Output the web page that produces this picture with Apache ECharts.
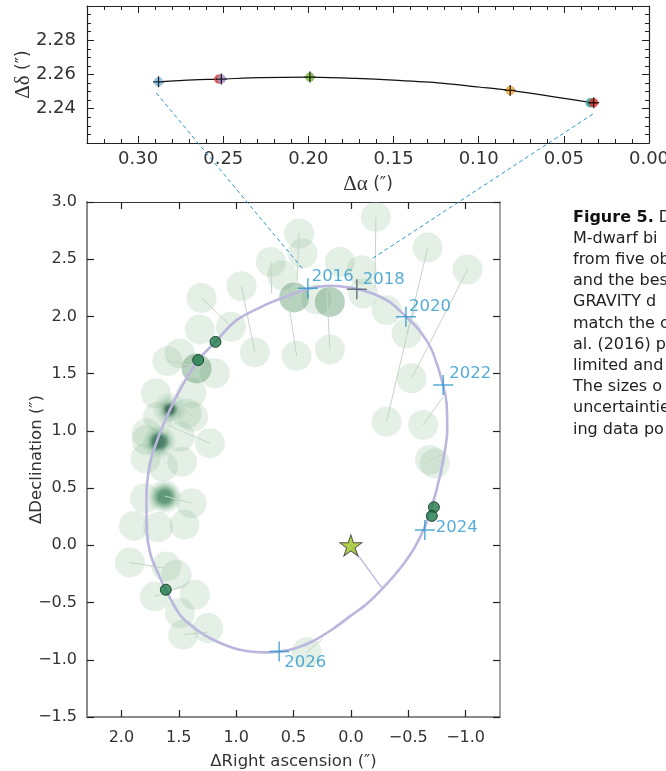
<!DOCTYPE html>
<html><head><meta charset="utf-8">
<script src="https://cdn.jsdelivr.net/npm/echarts@6/dist/echarts.min.js"></script>
<style>html,body{margin:0;padding:0;background:#fff}#c{width:666px;height:771px}</style>
</head><body><div id="c"></div>
<script>
// ---------- DATA ----------
// Top panel: GRAVITY orbit segment and five epochs
const topPathX = [0.288, 0.2675, 0.2526, 0.2284, 0.1991, 0.172, 0.15, 0.122, 0.10, 0.0815, 0.033];
const topPathY = [2.2557, 2.2569, 2.2573, 2.2582, 2.2585, 2.2577, 2.2567, 2.255, 2.2527, 2.2507, 2.2435];
const topPtX = [0.288, 0.2526, 0.2511, 0.1991, 0.0815, 0.0345, 0.0325];
const topPtY = [2.2557, 2.2573, 2.2573, 2.2585, 2.2507, 2.2435, 2.2435];
const topCrossX = [0.288, 0.2511, 0.1991, 0.0815, 0.0325];
const topCrossY = [2.2557, 2.2573, 2.2585, 2.2507, 2.2435];
const topXTicks = [0.00, 0.05, 0.10, 0.15, 0.20, 0.25, 0.30];
const topYTicks = [2.24, 2.26, 2.28];

// Main panel: best-fit orbit
const orbitX = [0.372,0.270,0.180,0.096,-0.055,-0.194,-0.340,-0.480,-0.584,-0.660,-0.718,-0.805,-0.834,-0.840,-0.811,-0.747,-0.645,-0.554,-0.427,-0.275,-0.135,0.009,0.154,0.331,0.488,0.625,0.765,0.898,1.026,1.201,1.345,1.491,1.613,1.683,1.748,1.779,1.782,1.750,1.680,1.578,1.491,1.331,1.180,0.997,0.735,0.520,0.372];
const orbitY = [2.243,2.262,2.268,2.264,2.240,2.199,2.125,1.998,1.894,1.789,1.677,1.401,1.241,1.008,0.775,0.484,0.164,-0.022,-0.205,-0.378,-0.515,-0.621,-0.729,-0.838,-0.901,-0.929,-0.935,-0.925,-0.897,-0.825,-0.737,-0.606,-0.388,-0.240,-0.074,0.135,0.423,0.720,0.940,1.182,1.357,1.619,1.778,1.968,2.105,2.190,2.243];
// periastron line from the primary
const periX = [0, -0.275];
const periY = [0, -0.378];
// Year markers
const years = ['2016','2018','2020','2022','2024','2026'];
const yearX = [0.375, -0.052, -0.48, -0.805, -0.645, 0.625];
const yearY = [2.247, 2.238, 1.997, 1.40, 0.135, -0.927];
// Benedict et al. (2016) measurements (large pale circles)
const obsX = [0.451,0.421,0.697,0.60,0.953,1.302,1.316,1.046,0.837,0.473,0.183,1.491,1.598,1.186,1.39,1.70,1.375,1.229,1.78,1.43,1.68,1.78,1.491,1.79,1.47,1.637,1.795,1.389,1.89,1.68,1.45,1.927,1.607,1.52,1.709,1.36,1.491,1.462,1.244,0.386,-0.218,-0.669,-1.017,0.096,-0.093,-0.311,-0.107,-0.486,-0.529,-0.311,-0.63,-0.689,-0.732,0.30];
const obsY = [2.724,2.55,2.476,2.36,2.264,2.162,1.886,1.909,1.686,1.656,1.712,1.677,1.61,1.503,1.33,1.328,1.124,0.892,0.979,1.153,1.124,0.92,0.949,0.76,0.73,0.688,0.412,0.368,0.17,0.16,0.18,-0.15,-0.185,-0.257,-0.447,-0.432,-0.592,-0.781,-0.723,-0.935,2.869,2.602,2.41,2.476,2.404,2.055,2.20,1.852,1.459,1.08,1.052,0.746,0.717,2.15];
const midX = [0.494, 0.183, 1.345];
const midY = [2.166, 2.127, 1.546];
const blurX = [1.578, 1.671, 1.622];
const blurY = [1.188, 0.906, 0.426];
// precise (dark green) measurements
const solidX = [1.18, 1.331, 1.613, -0.724, -0.706];
const solidY = [1.778, 1.619, -0.388, 0.333, 0.257];
// residual lines
const resX1 = [0.451,0.697,0.953,1.302,0.473,0.183,-0.218,-0.669,-1.017,-0.486,-0.63,-0.689,0.386,1.709,1.927,1.462,1.389,1.229,1.598,1.375];
const resY1 = [2.724,2.476,2.264,2.162,1.656,1.712,2.869,2.602,2.41,1.852,1.052,0.746,-0.935,-0.447,-0.15,-0.781,0.368,0.892,1.61,1.124];
const resX2 = [0.47,0.69,0.837,1.06,0.56,0.21,-0.21,-0.311,-0.529,-0.584,-0.805,-0.81,0.25,1.45,1.62,1.25,1.62,1.6,1.33,1.55];
const resY2 = [2.30,2.20,1.686,1.93,2.23,2.23,2.25,1.08,1.459,2.14,1.30,0.80,-0.82,-0.35,-0.2,-0.76,0.43,1.05,1.56,1.25];
const starX = [0];
const starY = [0];
const mainXTicks = [-1.0, -0.5, 0.0, 0.5, 1.0, 1.5, 2.0];
// connector (dashed) lines: top-panel start -> main-panel end
const dashTopX = [0.2893, 0.033];
const dashTopY = [2.2492, 2.2369];
const dashMainX = [0.41, -0.174];
const dashMainY = [2.404, 2.497];
// caption fragment (clipped at the right edge)
const captionHead = 'Figure 5.';
const captionLines = [' D','M-dwarf bi','from five ob','and the bes','GRAVITY d','match the c','al. (2016) p','limited and','The sizes o','uncertaintie','ing data po'];

// ---------- STYLES ----------
const topPtColors = ['#7cc1ea','#e8312a','#a898d4','#78b83a','#f5a623','#2a9d8f','#e82a2a'];
const yearColors = ['#2b97cc','#4d5f6b','#2b97cc','#2b97cc','#2b97cc','#2b97cc'];
const yearLabelOffset = [[-8,-11],[-6,-9],[-9,-10],[-6,-11],[-1,-2],[-7,11]];
const blurStyles = [
  {c0:'rgba(30,75,60,0.97)', c1:'rgba(50,105,80,0.8)', k:0.32},
  {c0:'rgba(30,92,66,0.97)', c1:'rgba(50,118,84,0.85)', k:0.45},
  {c0:'rgba(48,122,84,0.95)', c1:'rgba(68,142,98,0.8)', k:0.5}
];
const FONT = 'DejaVu Sans';
const TXT = '#333';
const BLUE = '#2b97cc';
const zip = (a,b) => a.map((v,i)=>[v,b[i]]);
const fmtM = (v,d) => (v < -1e-9 ? '\u2212' : '') + Math.abs(v).toFixed(d);
const crossPath = 'path://M0,9.25h20v1.5h-20z M9.25,0h1.5v20h-1.5z';
const smallCross = 'path://M0,4.4h10v1.2h-10z M4.4,0h1.2v10h-1.2z';
const starPath = 'path://M50,0 L61.8,35.4 L99,35.4 L69,57.3 L80.9,92.7 L50,70.8 L19.1,92.7 L31,57.3 L1,35.4 L38.2,35.4 Z';

const chart = echarts.init(document.getElementById('c'), null, {renderer:'canvas', width:666, height:771});

function topX(pos, showLab){
  return {
    gridIndex:0, type:'value', position:pos, min:0, max:0.33, inverse:true, interval:0.05,
    axisLine:{show:true, onZero:false, lineStyle:{color:'#222', width:1.2}},
    axisTick:{show:true, inside:true, length:7, lineStyle:{color:'#222', width:1}},
    minorTick:{show:true, splitNumber:5, length:4, lineStyle:{color:'#222', width:1}},
    splitLine:{show:false}, minorSplitLine:{show:false},
    axisLabel:{show:showLab, margin:7, fontFamily:FONT, fontSize:18, color:TXT, showMaxLabel:false, showMinLabel:true,
      formatter:v => topXTicks.some(t=>Math.abs(t-v)<1e-6) ? v.toFixed(2) : ''},
    name: showLab ? '{s|\u0394\u03b1} (\u2033)' : '', nameLocation:'middle', nameGap:31, nameMoveOverlap:false,
    nameTextStyle:{fontFamily:FONT, fontSize:17, color:TXT, rich:{s:{fontFamily:'Liberation Serif', fontSize:21, color:TXT}}}
  };
}
function topY(pos, showLab){
  return {
    gridIndex:0, type:'value', position:pos, min:2.22, max:2.30, interval:0.02,
    axisLine:{show:true, onZero:false, lineStyle:{color:'#222', width:1.2}},
    axisTick:{show:true, inside:true, length:7, lineStyle:{color:'#222', width:1}},
    minorTick:{show:true, splitNumber:4, length:4, lineStyle:{color:'#222', width:1}},
    splitLine:{show:false}, minorSplitLine:{show:false},
    axisLabel:{show:showLab, margin:11, fontFamily:FONT, fontSize:18, color:TXT, showMinLabel:false, showMaxLabel:false,
      formatter:v => topYTicks.some(t=>Math.abs(t-v)<1e-6) ? v.toFixed(2) : ''},
    name: showLab ? '{s|\u0394\u03b4} (\u2033)' : '', nameLocation:'middle', nameGap:53, nameMoveOverlap:false,
    nameTextStyle:{fontFamily:FONT, fontSize:17, color:TXT, rich:{s:{fontFamily:'Liberation Serif', fontSize:21, color:TXT}}}
  };
}
function mainX(pos, showLab, col, w){
  return {
    gridIndex:1, type:'value', position:pos, min:-1.3, max:2.3, inverse:true,
    axisLine:{show:true, onZero:false, lineStyle:{color:col, width:w}},
    axisTick:{show:true, inside:true, length:7, customValues:mainXTicks, lineStyle:{color:'#222', width:1.2}},
    splitLine:{show:false},
    axisLabel:{show:showLab, margin:13, fontFamily:FONT, fontSize:16, color:TXT, customValues:mainXTicks, formatter:v=>fmtM(v,1)},
    name: showLab ? '\u0394Right ascension (\u2033)' : '', nameLocation:'middle', nameGap:36, nameMoveOverlap:false,
    nameTextStyle:{fontFamily:FONT, fontSize:16.5, color:TXT}
  };
}
function mainY(pos, showLab, col, w){
  return {
    gridIndex:1, type:'value', position:pos, min:-1.5, max:3.0, interval:0.5,
    axisLine:{show:true, onZero:false, lineStyle:{color:col, width:w}},
    axisTick:{show:true, inside:true, length:7, lineStyle:{color:'#222', width:1.2}},
    splitLine:{show:false},
    axisLabel:{show:showLab, margin:10, fontFamily:FONT, fontSize:16, color:TXT, formatter:v=>fmtM(v,1)},
    name: showLab ? '\u0394Declination (\u2033)' : '', nameLocation:'middle', nameGap:42, nameMoveOverlap:false,
    nameTextStyle:{fontFamily:FONT, fontSize:16.5, color:TXT}
  };
}

const M = {xAxisIndex:1, yAxisIndex:1};
const option = {
  animation:false,
  backgroundColor:'#fff',
  grid:[
    {left:87, top:6, width:562, height:137, containLabel:false, outerBoundsMode:'none'},
    {left:87, top:202, width:413, height:515, containLabel:false, outerBoundsMode:'none'}
  ],
  xAxis:[ topX('bottom', true), mainX('bottom', true, '#8a8a8a', 2), topX('top', false), mainX('top', false, '#333', 1.2) ],
  yAxis:[ topY('left', true), mainY('left', true, '#8a8a8a', 2), topY('right', false), mainY('right', false, '#8a8a8a', 1.5) ],
  series:[
    // ----- top panel -----
    {type:'line', xAxisIndex:0, yAxisIndex:0, data:zip(topPathX, topPathY), smooth:0.3, showSymbol:false,
      lineStyle:{color:'#111', width:1.2}, z:2, silent:true},
    {type:'scatter', xAxisIndex:0, yAxisIndex:0, symbolSize:9, z:3, silent:true,
      data: zip(topPtX, topPtY).map((p,i)=>({value:p, itemStyle:{color:topPtColors[i], borderColor:'rgba(0,0,0,0.25)', borderWidth:0.5}}))},
    {type:'scatter', xAxisIndex:0, yAxisIndex:0, symbol:smallCross, symbolSize:11, z:4, silent:true,
      itemStyle:{color:'#000'}, data:zip(topCrossX, topCrossY)},
    // ----- main panel -----
    {type:'scatter', ...M, symbolSize:30, z:1, silent:true,
      itemStyle:{color:'rgba(150,195,160,0.32)'}, data:zip(obsX, obsY)},
    {type:'scatter', ...M, symbolSize:30, z:2, silent:true,
      itemStyle:{color:'rgba(105,160,120,0.6)'}, data:zip(midX, midY)},
    {type:'scatter', ...M, symbolSize:34, z:2, silent:true,
      data: zip(blurX, blurY).map((p,i)=>{ const s=blurStyles[i]; return {value:p, itemStyle:{color:{type:'radial', x:0.5, y:0.5, r:0.5, colorStops:[
        {offset:0, color:s.c0},{offset:s.k*0.7, color:s.c0},{offset:s.k, color:s.c1},
        {offset:Math.min(0.9,s.k+0.18), color:'rgba(100,160,118,0.55)'},{offset:1, color:'rgba(180,215,188,0.15)'}]}}}; })},
    {type:'lines', coordinateSystem:'cartesian2d', ...M, z:3, silent:true,
      lineStyle:{color:'#c3d6c6', width:1, opacity:1},
      data: resX1.map((v,i)=>({coords:[[v,resY1[i]],[resX2[i],resY2[i]]]}))},
    {type:'line', ...M, data:zip(orbitX, orbitY), smooth:0.3, showSymbol:false,
      lineStyle:{color:'#bab6de', width:2.6}, z:4, silent:true},
    {type:'line', ...M, data:zip(periX, periY), showSymbol:false,
      lineStyle:{color:'#bab6de', width:1.3}, z:4, silent:true},
    {type:'scatter', ...M, symbolSize:11, z:6, silent:true,
      itemStyle:{color:'#1d7a4a', borderColor:'#0c2a18', borderWidth:1}, data:zip(solidX, solidY)},
    {type:'scatter', ...M, symbol:crossPath, symbolSize:20, z:7, silent:true,
      data: zip(yearX, yearY).map((p,i)=>({value:p, itemStyle:{color:yearColors[i]},
        label:{show:true, position:'right', distance:2, offset:yearLabelOffset[i],
        formatter:years[i], fontFamily:FONT, fontSize:16.5, color:BLUE}}))},
    {type:'scatter', ...M, symbol:starPath, symbolSize:[22,21], z:8, silent:true,
      itemStyle:{color:'#9cc41e', borderColor:'#333', borderWidth:1}, data:zip(starX, starY)}
  ]
};
chart.setOption(option);

// dashed connectors + caption
const g = [];
for (let i=0;i<dashTopX.length;i++){
  const a = chart.convertToPixel({gridIndex:0}, [dashTopX[i], dashTopY[i]]);
  const b = chart.convertToPixel({gridIndex:1}, [dashMainX[i], dashMainY[i]]);
  g.push({type:'line', z:50, shape:{x1:a[0], y1:a[1], x2:b[0], y2:b[1]},
    style:{stroke:'#2b97cc', lineWidth:1, lineDash:[4,3]}});
}
captionLines.forEach((t,i)=>{
  const txt = i === 0 ? '{b|' + captionHead + '}' + t : t;
  g.push({type:'text', x:573, y:217.5 + i*21.2, z:50,
    style:{text:txt, fill:'#222', font:'16px "DejaVu Sans"', verticalAlign:'middle', align:'left',
      rich:{b:{fontFamily:'DejaVu Sans', fontSize:16, fontWeight:'bold', fill:'#111'}}}});
});
chart.setOption({graphic:g});
</script>
</body></html>
